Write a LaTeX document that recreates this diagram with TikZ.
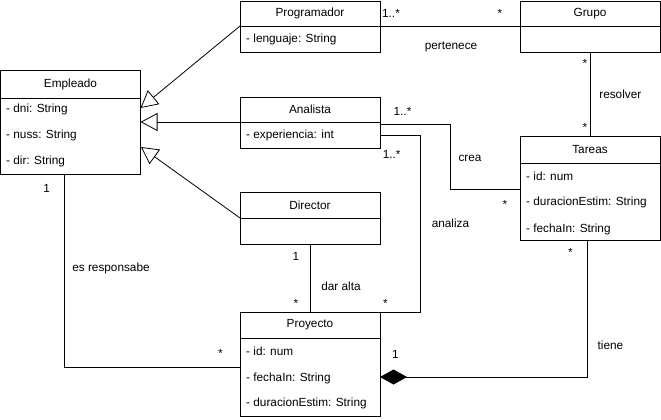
\documentclass[tikz,border=0pt]{standalone}
\usepackage{fontspec}
\setmainfont{Liberation Sans}
\usetikzlibrary{arrows.meta,calc}
\begin{document}
\begin{tikzpicture}[x=1pt,y=-1pt,
 every node/.style={font=\fontsize{11.8}{13}\selectfont, text=black},
 box/.style={draw, line width=0.8pt, minimum width=140pt, inner sep=0pt, outer sep=0pt},
 attr/.style={anchor=west, inner sep=0pt, text height=8.5pt, text depth=2.5pt},
 lbl/.style={inner sep=0pt, text height=8.5pt, text depth=2.5pt},
 conn/.style={draw, line width=0.8pt},
 gen/.style={conn, -{Triangle[length=17pt, width=18pt, fill=white]}},
 comp/.style={conn, -{Diamond[length=27pt, width=15pt, fill=black]}}]
\useasboundingbox (0,0) rectangle (661,420);

% Empleado
\node[box, minimum height=28pt] (empH) at (70.5,84) {Empleado};
\node[box, minimum height=76pt, anchor=north] (empB) at (empH.south) {};
\node[attr] (empA1) at (6,109) {- dni: String};
\node[attr] (empA2) at (6,135) {- nuss: String};
\node[attr] (empA3) at (6,161) {- dir: String};

% Programador
\node[box, minimum height=25pt] (progH) at (310,13.5) {Programador};
\node[box, minimum height=26pt, anchor=north] (progB) at (progH.south) {};
\node[attr] (progA1) at (246,40) {- lenguaje: String};

% Grupo
\node[box, minimum height=25pt] (grpH) at (590,13.5) {Grupo};
\node[box, minimum height=26pt, anchor=north] (grpB) at (grpH.south) {};

% Analista
\node[box, minimum height=25pt] (anaH) at (310,109.5) {Analista};
\node[box, minimum height=26pt, anchor=north] (anaB) at (anaH.south) {};
\node[attr] (anaA1) at (246,135) {- experiencia: int};

% Director
\node[box, minimum height=26pt] (dirH) at (310,205) {Director};
\node[box, minimum height=26pt, anchor=north] (dirB) at (dirH.south) {};

% Proyecto
\node[box, minimum height=26pt] (proyH) at (310,325) {Proyecto};
\node[box, minimum height=78.5pt, anchor=north] (proyB) at (proyH.south) {};
\node[attr] (proyA1) at (246,352) {- id: num};
\node[attr] (proyA2) at (246,378) {- fechaIn: String};
\node[attr] (proyA3) at (246,403) {- duracionEstim: String};

% Tareas
\node[box, minimum height=27pt] (tarH) at (590,149.5) {Tareas};
\node[box, minimum height=77.5pt, anchor=north] (tarB) at (tarH.south) {};
\node[attr] (tarA1) at (526,177) {- id: num};
\node[attr] (tarA2) at (526,202) {- duracionEstim: String};
\node[attr] (tarA3) at (526,229) {- fechaIn: String};

% helper coordinates
\coordinate (gP) at (140.5,108);
\coordinate (gA) at (140.5,122);
\coordinate (gD) at (141,147);
\coordinate (creaS) at (380,124);
\coordinate (creaA) at (450,124);
\coordinate (creaE) at (520,189);
\coordinate (anzS) at (380,135);
\coordinate (anzA) at (420,135);
\coordinate (anzB) at (420,312);
\coordinate (respS) at (64,174);
\coordinate (respE) at (240,367);
\coordinate (tieS) at (587,240.5);
\coordinate (tieE) at (380,377);

% connectors
\draw[conn] (progH.south east) -- (grpH.south west);
\draw[gen] (progH.south west) -- (gP);
\draw[gen] (anaH.south west) -- (gA);
\draw[gen] (dirH.south west) -- (gD);
\draw[conn] (creaS) -- (creaA) |- (creaE);
\draw[conn] (anzS) -- (anzA) -- (anzB) -- (proyH.north east);
\draw[conn] (grpB.south) -- (tarH.north);
\draw[conn] (dirB.south) -- (proyH.north);
\draw[conn] (respS) |- (respE);
\draw[comp] (tieS) |- (tieE);

% labels
\node[lbl] (l1) at (391,14.3) {1..*};
\node[lbl] (l2) at (500,14.3) {*};
\node[lbl] (l3) at (451,47) {pertenece};
\node[lbl] (l4) at (402.5,112) {1..*};
\node[lbl] (l5) at (391.7,155.3) {1..*};
\node[lbl] (l6) at (470,158) {crea};
\node[lbl] (l7) at (505,205) {*};
\node[lbl] (l8) at (450.5,224.5) {analiza};
\node[lbl] (l9) at (585,64.3) {*};
\node[lbl] (l10) at (620.3,96) {resolver};
\node[lbl] (l11) at (585,128.3) {*};
\node[lbl] (l12) at (296,257.8) {1};
\node[lbl] (l13) at (296,304) {*};
\node[lbl] (l14) at (341,287.5) {dar alta};
\node[lbl] (l15) at (385.3,304) {*};
\node[lbl] (l16) at (46.7,189.5) {1};
\node[lbl] (l17) at (111,268) {es responsabe};
\node[lbl] (l18) at (220.5,354) {*};
\node[lbl] (l19) at (395.5,355.5) {1};
\node[lbl] (l20) at (570.4,253.3) {*};
\node[lbl] (l21) at (610.5,346.5) {tiene};
\end{tikzpicture}
\end{document}
